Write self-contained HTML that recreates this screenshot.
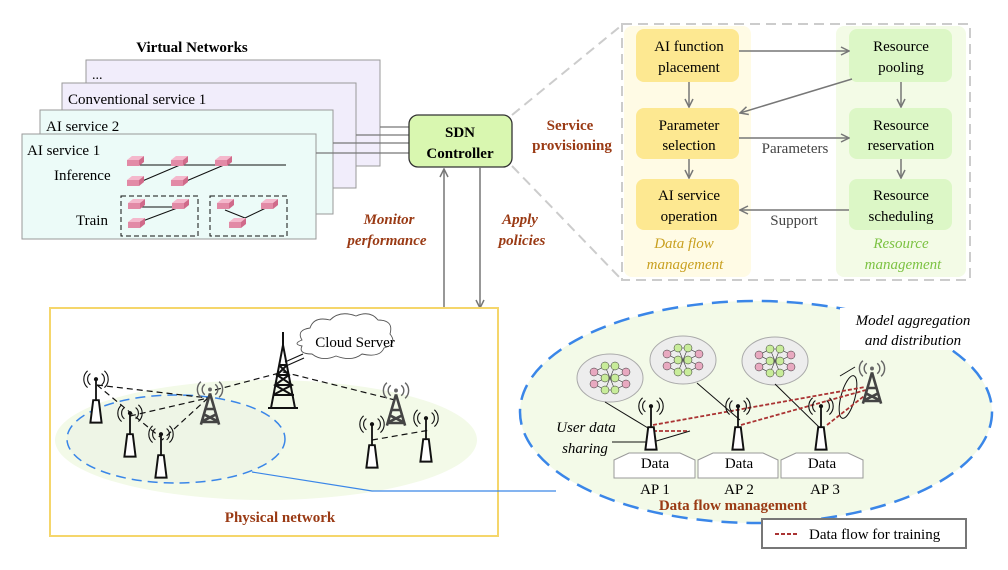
<!DOCTYPE html>
<html><head><meta charset="utf-8"><style>
html,body{margin:0;padding:0;background:#fff}
svg{display:block}
text{font-family:"Liberation Serif",serif}
</style></head><body>
<svg width="1008" height="570" viewBox="0 0 1008 570" xmlns="http://www.w3.org/2000/svg">
<defs>
<marker id="ag" markerWidth="10" markerHeight="10" refX="9" refY="5" orient="auto" markerUnits="userSpaceOnUse"><path d="M1,1 L9,5 L1,9" fill="none" stroke="#777" stroke-width="1.5"/></marker>
<g id="cube"><path d="M0,4 L12,4 L17,0 L5,0Z" fill="#f4b8cc"/><path d="M0,4 L12,4 L12,10 L0,10Z" fill="#e28aa6"/><path d="M12,4 L17,0 L17,6 L12,10Z" fill="#d06a8a"/></g>
<g id="ant"><path d="M-4,14 L-2,-2 L2,-2 L4,14 Z" fill="#fff" stroke="#111" stroke-width="1.4"/><line x1="0" y1="-2" x2="0" y2="-16" stroke="#111" stroke-width="1.3"/><circle cx="0" cy="-17" r="1.5" fill="#111"/><path d="M-4,-21 a5,5 0 0 0 0,8 M4,-21 a5,5 0 0 1 0,8 M-6,-23 a8,8 0 0 0 0,12 M6,-23 a8,8 0 0 1 0,12" fill="none" stroke="#111" stroke-width="0.8"/></g>
<g id="twr"><path d="M0,-12 L-7,12 M0,-12 L7,12 M-4,0 L4,0 M-5,4 L5,9 M5,4 L-5,9 M-6,10 L6,10" stroke="#444" stroke-width="2" fill="none"/><path d="M-4,-19 a5,5 0 0 0 0,8 M4,-19 a5,5 0 0 1 0,8 M-7,-21 a8,8 0 0 0 0,12 M7,-21 a8,8 0 0 1 0,12" fill="none" stroke="#666" stroke-width="1.1"/><circle cx="0" cy="-15" r="1.5" fill="#666"/></g>
<g id="nn"><ellipse cx="0" cy="0" rx="33" ry="24" fill="#ededed" stroke="#aaa"/>
<g stroke="#333" stroke-width="0.6"><path d="M-16,-6 L-5,-12 M-16,-6 L-5,0 M-16,6 L-5,0 M-16,6 L-5,12 M-5,-12 L5,-12 M-5,0 L5,0 M-5,12 L5,12 M-5,-12 L5,12 M-5,12 L5,-12 M5,-12 L16,-6 M5,0 L16,6 M5,12 L16,6 M5,0 L16,-6"/></g>
<g stroke="#333" stroke-width="0.5"><circle cx="-16" cy="-6" r="4" fill="#e8a9c0"/><circle cx="-16" cy="6" r="4" fill="#e8a9c0"/><circle cx="16" cy="-6" r="4" fill="#e8a9c0"/><circle cx="16" cy="6" r="4" fill="#e8a9c0"/>
<circle cx="-5" cy="-12" r="4" fill="#c8ec9a"/><circle cx="-5" cy="0" r="4" fill="#c8ec9a"/><circle cx="-5" cy="12" r="4" fill="#c8ec9a"/><circle cx="5" cy="-12" r="4" fill="#c8ec9a"/><circle cx="5" cy="0" r="4" fill="#c8ec9a"/><circle cx="5" cy="12" r="4" fill="#c8ec9a"/></g></g>
</defs>

<!-- Virtual networks -->
<text x="192" y="52" font-size="15" font-weight="bold" text-anchor="middle">Virtual Networks</text>
<rect x="86" y="60" width="294" height="106" fill="#f1edfb" stroke="#999"/>
<text x="92" y="79" font-size="14">...</text>
<rect x="62" y="83" width="294" height="105" fill="#f1edfb" stroke="#999"/>
<text x="68" y="104" font-size="15">Conventional service 1</text>
<rect x="40" y="110" width="293" height="104" fill="#ecfbf8" stroke="#999"/>
<text x="46" y="131" font-size="15">AI service 2</text>
<rect x="22" y="134" width="294" height="105" fill="#ecfbf8" stroke="#999"/>
<text x="27" y="155" font-size="15">AI service 1</text>
<text x="54" y="180" font-size="15">Inference</text>
<text x="76" y="225" font-size="15">Train</text>
<g stroke="#111" stroke-width="1">
<line x1="140" y1="165" x2="286" y2="165"/><line x1="140" y1="182" x2="180" y2="165"/><line x1="184" y1="182" x2="224" y2="165"/>
<line x1="140" y1="207" x2="180" y2="207"/><line x1="140" y1="222" x2="180" y2="207"/>
<line x1="225" y1="210" x2="245" y2="218"/><line x1="245" y1="218" x2="268" y2="207"/>
</g>
<use href="#cube" x="127" y="156"/><use href="#cube" x="171" y="156"/><use href="#cube" x="215" y="156"/>
<use href="#cube" x="127" y="176"/><use href="#cube" x="171" y="176"/>
<rect x="121" y="196" width="77" height="40" fill="none" stroke="#111" stroke-dasharray="5,3"/>
<rect x="210" y="196" width="77" height="40" fill="none" stroke="#111" stroke-dasharray="5,3"/>
<use href="#cube" x="128" y="199"/><use href="#cube" x="172" y="199"/><use href="#cube" x="128" y="218"/>
<use href="#cube" x="217" y="199"/><use href="#cube" x="261" y="199"/><use href="#cube" x="229" y="218"/>
<g stroke="#777" stroke-width="1.2">
<line x1="380" y1="127" x2="410" y2="127"/><line x1="356" y1="135" x2="410" y2="135"/><line x1="333" y1="143" x2="410" y2="143"/><line x1="316" y1="153" x2="410" y2="153"/>
</g>
<rect x="409" y="115" width="103" height="52" rx="9" fill="#d9f7b0" stroke="#333" stroke-width="1.3"/>
<text x="460" y="137" font-size="15" font-weight="bold" text-anchor="middle">SDN</text>
<text x="460" y="158" font-size="15" font-weight="bold" text-anchor="middle">Controller</text>
<line x1="444" y1="310" x2="444" y2="169" stroke="#777" stroke-width="1.5" marker-end="url(#ag)"/>
<line x1="480" y1="167" x2="480" y2="308" stroke="#777" stroke-width="1.5" marker-end="url(#ag)"/>
<g font-size="15" font-weight="bold" font-style="italic" fill="#9a3a14" text-anchor="middle">
<text x="389" y="224">Monitor</text><text x="387" y="245">performance</text>
<text x="520" y="224">Apply</text><text x="522" y="245">policies</text>
</g>
<g font-size="15" font-weight="bold" fill="#9a3a14" text-anchor="middle"><text x="570" y="130">Service</text><text x="572" y="150">provisioning</text></g>

<!-- Service provisioning panel -->
<g stroke="#ccc" stroke-width="2" stroke-dasharray="10,6" fill="none">
<line x1="512" y1="115" x2="622" y2="25"/><line x1="512" y1="166" x2="622" y2="280"/>
<rect x="622" y="24" width="348" height="256"/>
</g>
<rect x="624" y="26" width="127" height="251" rx="8" fill="#fffbe5"/>
<rect x="836" y="26" width="130" height="251" rx="8" fill="#f3fbe6"/>
<g fill="#fde891"><rect x="636" y="29" width="103" height="53" rx="8"/><rect x="636" y="108" width="103" height="51" rx="8"/><rect x="636" y="179" width="103" height="51" rx="8"/></g>
<g fill="#dcf7c6"><rect x="849" y="29" width="103" height="53" rx="8"/><rect x="849" y="108" width="103" height="51" rx="8"/><rect x="849" y="179" width="103" height="51" rx="8"/></g>
<g font-size="15" text-anchor="middle">
<text x="689" y="51">AI function</text><text x="689" y="72">placement</text>
<text x="689" y="130">Parameter</text><text x="689" y="150">selection</text>
<text x="689" y="200">AI service</text><text x="689" y="221">operation</text>
<text x="901" y="51">Resource</text><text x="901" y="72">pooling</text>
<text x="901" y="130">Resource</text><text x="901" y="150">reservation</text>
<text x="901" y="200">Resource</text><text x="901" y="221">scheduling</text>
</g>
<g stroke="#777" stroke-width="1.5" marker-end="url(#ag)">
<line x1="739" y1="51" x2="849" y2="51"/>
<line x1="689" y1="82" x2="689" y2="107"/><line x1="689" y1="159" x2="689" y2="178"/>
<line x1="901" y1="82" x2="901" y2="107"/><line x1="901" y1="159" x2="901" y2="178"/>
<line x1="852" y1="79" x2="740" y2="113"/>
<line x1="739" y1="138" x2="849" y2="138"/>
<line x1="849" y1="210" x2="740" y2="210"/>
</g>
<g font-size="15" fill="#444" text-anchor="middle"><text x="795" y="153">Parameters</text><text x="794" y="225">Support</text></g>
<g font-size="15" font-style="italic" text-anchor="middle">
<text x="684" y="248" fill="#c9a020">Data flow</text><text x="685" y="269" fill="#c9a020">management</text>
<text x="901" y="248" fill="#7cc242">Resource</text><text x="903" y="269" fill="#7cc242">management</text>
</g>

<!-- Physical network -->
<rect x="50" y="308" width="448" height="228" fill="#fff" stroke="#f5d66b" stroke-width="2"/>
<ellipse cx="266" cy="440" rx="211" ry="60" fill="#f3fae8"/>
<ellipse cx="176" cy="439" rx="109" ry="44" fill="#eef5e6" stroke="#3a86e8" stroke-width="1.5" stroke-dasharray="10,6"/>
<g stroke="#111" stroke-width="1.2" stroke-dasharray="6,4" fill="none">
<path d="M97,385 L208,398 M97,385 L160,437 M130,416 L208,398 M208,398 L162,440 M215,390 L283,372 M283,372 L395,400 M372,440 L430,430"/>
</g>
<g transform="translate(96,403) scale(1.4)"><use href="#ant"/></g>
<g transform="translate(130,437) scale(1.4)"><use href="#ant"/></g>
<g transform="translate(161,458) scale(1.4)"><use href="#ant"/></g>
<g transform="translate(372,448) scale(1.4)"><use href="#ant"/></g>
<g transform="translate(426,442) scale(1.4)"><use href="#ant"/></g>
<g transform="translate(210,409) scale(1.3)"><use href="#twr"/></g>
<g transform="translate(396,410) scale(1.3)"><use href="#twr"/></g>
<g stroke="#111" stroke-width="2" fill="none">
<path d="M283,345 L271,408 M283,345 L295,408 M279,365 L287,365 M277,375 L289,375 M275,385 L292,385 M273,395 L294,395 M279,365 L289,375 L275,385 L292,395 M287,365 L277,375 L292,385 L273,395 M268,408 L298,408"/>
<line x1="283" y1="345" x2="283" y2="332"/>
<path d="M285,362 L303,354 M286,366 L304,358" stroke-width="1.2"/>
</g>
<path d="M302,340 q-6,-10 8,-12 q4,-12 20,-8 q10,-10 26,-4 q14,-6 22,4 q16,0 12,14 q8,10 -6,14 q-4,10 -22,6 q-10,8 -26,2 q-14,6 -24,-2 q-14,0 -10,-8 q-10,-2 0,-6z" fill="#fff" stroke="#555" stroke-width="0.9"/>
<text x="355" y="347" font-size="15" text-anchor="middle">Cloud Server</text>
<text x="280" y="522" font-size="15" font-weight="bold" fill="#9a3a14" text-anchor="middle">Physical network</text>
<polyline points="252,472 372,491 556,491" fill="none" stroke="#3a86e8" stroke-width="1.2"/>

<!-- Data flow ellipse -->
<ellipse cx="756" cy="412" rx="236" ry="111" fill="#f3fae8" stroke="#3a86e8" stroke-width="2.5" stroke-dasharray="16,9"/>
<rect x="840" y="308" width="140" height="42" fill="#fff"/>
<g font-size="15" font-style="italic" text-anchor="middle"><text x="913" y="325">Model aggregation</text><text x="913" y="345">and distribution</text></g>
<use href="#nn" x="610" y="378"/><use href="#nn" x="683" y="360"/><use href="#nn" x="775" y="361"/>
<g stroke="#111" stroke-width="1"><line x1="605" y1="402" x2="648" y2="428"/><line x1="697" y1="383" x2="740" y2="420"/><line x1="775" y1="384" x2="820" y2="428"/>
<path d="M855,367 L840,376"/><ellipse cx="848" cy="397" rx="7" ry="22" fill="none" transform="rotate(15 848 397)"/></g>
<g stroke="#a33" stroke-width="1.8" stroke-dasharray="4,2" fill="none">
<path d="M653,425 L865,387 M653,431 L688,431 M741,425 L866,390 M827,425 L868,393"/>
</g>
<path d="M612,442 L653,442 L690,431" fill="none" stroke="#111" stroke-width="1"/>
<g font-size="15" font-style="italic" text-anchor="middle"><text x="586" y="432">User data</text><text x="585" y="453">sharing</text></g>
<g transform="translate(651,430) scale(1.4)"><use href="#ant"/></g>
<g transform="translate(738,430) scale(1.4)"><use href="#ant"/></g>
<g transform="translate(821,430) scale(1.4)"><use href="#ant"/></g>
<g transform="translate(872,388) scale(1.3)"><use href="#twr"/></g>
<g fill="#fff" stroke="#999"><path d="M614,478 L614,460 L629,453 L680,453 L695,460 L695,478Z"/><path d="M698,478 L698,460 L713,453 L763,453 L778,460 L778,478Z"/><path d="M781,478 L781,460 L796,453 L848,453 L863,460 L863,478Z"/></g>
<g font-size="15" text-anchor="middle"><text x="655" y="468">Data</text><text x="739" y="468">Data</text><text x="822" y="468">Data</text>
<text x="655" y="494">AP 1</text><text x="739" y="494">AP 2</text><text x="825" y="494">AP 3</text></g>
<text x="733" y="510" font-size="15" font-weight="bold" fill="#9a3a14" text-anchor="middle">Data flow management</text>
<rect x="762" y="519" width="204" height="29" fill="#fff" stroke="#777" stroke-width="2"/>
<line x1="775" y1="534" x2="797" y2="534" stroke="#a33" stroke-width="2" stroke-dasharray="4,2"/>
<text x="809" y="539" font-size="15">Data flow for training</text>
</svg>
</body></html>
